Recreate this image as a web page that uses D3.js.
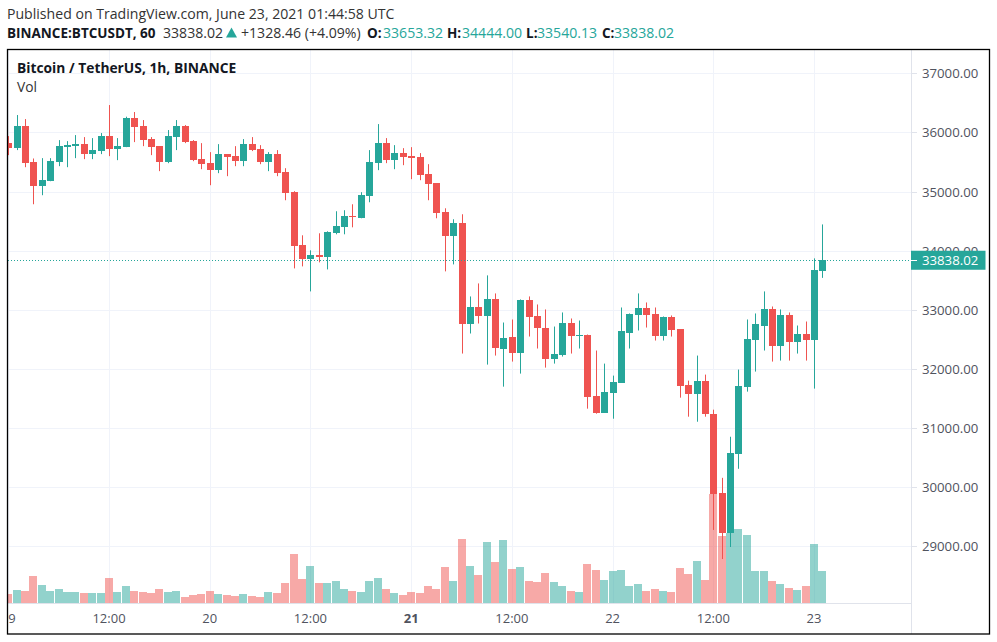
<!DOCTYPE html>
<html>
<head>
<meta charset="utf-8">
<script src="https://cdn.jsdelivr.net/npm/d3@7"></script>
<style>
html, body { margin: 0; padding: 0; background: #fff; }
svg { display: block; }
text { font-family: "Open Sans", sans-serif; fill: #131722; }
</style>
</head>
<body>
<div id="chart"></div>
<script>
// hourly candles, oldest first
var opens = [35814,35734,36107,35497,35090,35175,35497,35751,35768,35802,35633,35684,35938,35717,35751,36243,36107,35887,35768,35497,35921,36107,35853,35548,35480,35362,35633,35599,35514,35802,35717,35497,35633,
	35328,34989,34090,33853,33921,33887,34294,34395,34582,34548,34921,35480,35819,35531,35650,35599,35582,35294,35141,34650,34243,34463,32768,33039,32887,33175,32345,32548,32277,33158,32887,32700,32175,32243,32785,32565,32582,31548,31260,31599,31768,32616,32904,33023,32921,32565,32870,
	32667,31734,31582,31802,31243,29904,29226,30565,31700,32497,32734,33006,32395,32904,32463,32599,32497,33653.32];
var highs = [35938,36294,36226,35559,35565,35565,35870,35853,35955,35921,35904,35989,36463,35904,36266,36345,36209,35921,35768,36040,36209,36124,35870,35819,35667,35802,35633,35768,35887,35921,35785,35667,35701,
	35395,35006,34260,34006,34294,34328,34667,34684,34785,34989,35701,36141,35904,35785,35734,35751,35650,35463,35141,34717,34531,34616,33226,33446,33582,33277,32785,32836,33175,33226,33090,33006,32717,32955,32853,32819,32582,32311,32090,31887,33039,32938,33277,33124,33039,32887,32904,
	32667,31802,32226,31904,31311,30158,30853,31989,32836,32938,33311,33056,33006,32955,32734,32802,33870,34444];
var lows = [35616,35701,35412,34785,34938,35175,35429,35412,35565,35548,35548,35633,35599,35531,35751,35836,35768,35616,35345,35480,35701,35819,35514,35378,35107,35311,35260,35429,35429,35684,35463,35345,35260,
	34853,33700,33734,33311,33802,33683,34277,34277,34395,34548,34819,35362,35480,35378,35446,35209,35192,34853,34548,33650,33768,32260,32599,32768,32073,32226,31700,32124,31921,32548,32345,32022,32090,32209,32260,32345,31328,31243,31260,31158,31768,32345,32650,32700,32480,32480,32548,
	31514,31192,31107,31192,29277,28785,28988,30311,31616,31955,32311,32124,32141,32141,32260,32141,31667,33540.13];
var closes = [35734,36107,35480,35090,35192,35514,35768,35785,35802,35633,35701,35938,35717,35768,36243,36090,35870,35751,35497,35938,36107,35836,35531,35463,35362,35633,35582,35514,35802,35701,35497,35633,35311,
	34972,34073,33853,33921,33887,34311,34412,34582,34565,34938,35497,35819,35531,35650,35582,35565,35277,35124,34633,34243,34463,32768,33039,32887,33175,32361,32531,32277,33158,32870,32684,32175,32260,32785,32565,32582,31531,31260,31616,31785,32633,32921,33023,32904,32565,32870,32650,
	31717,31582,31802,31243,29887,29226,30582,31717,32514,32768,33006,32395,32904,32463,32599,32497,33667,33838.02];
// volume, in arbitrary units as the pane has no scale
var volumes = [27,39,36,81,54,36,42,33,33,30,30,30,75,33,51,36,33,30,42,33,36,18,24,27,36,27,24,21,27,21,18,33,30,60,147,72,111,60,60,66,42,36,33,66,75,42,30,24,33,30,
	51,42,108,66,192,111,84,183,123,189,102,108,66,63,90,63,51,36,33,117,99,69,96,99,51,57,36,42,36,33,105,87,126,69,327,201,210,222,204,96,96,66,57,45,39,51,177,96];
// every 12 bars from the left edge
var timeLabels = ["19","12:00","20","12:00","21","12:00","22","12:00","23"];
var priceTicks = [29000,30000,31000,32000,33000,34000,35000,36000,37000];

var UP = "#26a69a", DOWN = "#ef5350", GRID = "#f0f3fa", AXIS_LINE = "#e0e3eb";
var WIDTH = 997, HEIGHT = 642;
var PANE_LEFT = 8, PANE_RIGHT = 911, PANE_TOP = 50, PANE_BOTTOM = 603;
var lastPrice = closes[closes.length - 1];

var x = d3.scaleLinear().domain([0, 97]).range([8.3, 822.4]);
var y = d3.scaleLinear().domain([29000, 37000]).range([546.3, 73.3]);
var yVol = d3.scaleLinear().domain([0, 300]).range([PANE_BOTTOM, PANE_BOTTOM - 100]);

var svg = d3.select("#chart").append("svg").attr("width", WIDTH).attr("height", HEIGHT);

svg.append("clipPath").attr("id", "pane").append("rect")
	.attr("x", PANE_LEFT).attr("y", PANE_TOP)
	.attr("width", PANE_RIGHT - PANE_LEFT).attr("height", PANE_BOTTOM - PANE_TOP);
svg.append("clipPath").attr("id", "time_axis").append("rect")
	.attr("x", PANE_LEFT).attr("y", PANE_BOTTOM)
	.attr("width", PANE_RIGHT - PANE_LEFT).attr("height", 30);

// Grid
var grid = svg.append("g").attr("clip-path", "url(#pane)");
grid.selectAll("line.h").data(priceTicks).enter().append("line")
	.attr("x1", PANE_LEFT).attr("x2", PANE_RIGHT)
	.attr("y1", function(d) { return Math.round(y(d)) + 0.5; })
	.attr("y2", function(d) { return Math.round(y(d)) + 0.5; })
	.attr("stroke", GRID);
grid.selectAll("line.v").data(timeLabels).enter().append("line")
	.attr("x1", function(d, i) { return Math.round(x(i * 12)) + 0.5; })
	.attr("x2", function(d, i) { return Math.round(x(i * 12)) + 0.5; })
	.attr("y1", PANE_TOP).attr("y2", PANE_BOTTOM)
	.attr("stroke", GRID);

// Volume under the candles
var pane = svg.append("g").attr("clip-path", "url(#pane)");
pane.selectAll("rect.vol").data(volumes).enter().append("rect")
	.attr("x", function(d, i) { return Math.round(x(i)) - 4; })
	.attr("width", 8)
	.attr("y", function(d) { return yVol(d); })
	.attr("height", function(d) { return PANE_BOTTOM - yVol(d); })
	.attr("fill", function(d, i) { return closes[i] >= opens[i] ? UP : DOWN; })
	.attr("opacity", 0.5);

// Last price line
svg.append("line")
	.attr("x1", PANE_LEFT).attr("x2", PANE_RIGHT)
	.attr("y1", Math.round(y(lastPrice)) + 0.5).attr("y2", Math.round(y(lastPrice)) + 0.5)
	.attr("stroke", UP).attr("stroke-dasharray", "1 2");

// Candles
pane.selectAll("line.wick").data(opens).enter().append("line")
	.attr("x1", function(d, i) { return Math.round(x(i)) + 0.5; })
	.attr("x2", function(d, i) { return Math.round(x(i)) + 0.5; })
	.attr("y1", function(d, i) { return y(highs[i]); })
	.attr("y2", function(d, i) { return y(lows[i]); })
	.attr("stroke", function(d, i) { return closes[i] >= d ? UP : DOWN; });
pane.selectAll("rect.body").data(opens).enter().append("rect")
	.attr("x", function(d, i) { return Math.round(x(i)) - 3; })
	.attr("width", 7)
	.attr("y", function(d, i) { return Math.round(y(Math.max(d, closes[i]))); })
	.attr("height", function(d, i) { return Math.max(1, Math.round(y(Math.min(d, closes[i]))) - Math.round(y(Math.max(d, closes[i])))); })
	.attr("fill", function(d, i) { return closes[i] >= d ? UP : DOWN; });

// Axis lines
svg.append("line").attr("x1", PANE_RIGHT + 0.5).attr("x2", PANE_RIGHT + 0.5)
	.attr("y1", PANE_TOP).attr("y2", 634).attr("stroke", AXIS_LINE);
svg.append("line").attr("x1", PANE_LEFT).attr("x2", PANE_RIGHT)
	.attr("y1", PANE_BOTTOM + 0.5).attr("y2", PANE_BOTTOM + 0.5).attr("stroke", AXIS_LINE);

// Price axis
var priceAxis = svg.append("g");
priceAxis.selectAll("line").data(priceTicks).enter().append("line")
	.attr("x1", PANE_RIGHT).attr("x2", PANE_RIGHT + 6)
	.attr("y1", function(d) { return Math.round(y(d)) + 0.5; })
	.attr("y2", function(d) { return Math.round(y(d)) + 0.5; })
	.attr("stroke", AXIS_LINE);
priceAxis.selectAll("text").data(priceTicks).enter().append("text")
	.attr("x", 922)
	.attr("y", function(d) { return y(d) + 5; })
	.attr("font-size", 13.2)
	.style("fill", "#50535e")
	.text(function(d) { return d3.format(".2f")(d); });

// Last price tag covers the 34000 label
svg.append("rect")
	.attr("x", PANE_RIGHT).attr("y", y(lastPrice) - 9.5)
	.attr("width", 74.5).attr("height", 19)
	.attr("fill", UP);
svg.append("line")
	.attr("x1", PANE_RIGHT).attr("x2", PANE_RIGHT + 6)
	.attr("y1", Math.round(y(lastPrice)) + 0.5).attr("y2", Math.round(y(lastPrice)) + 0.5)
	.attr("stroke", "#fff");
svg.append("text")
	.attr("x", 922).attr("y", y(lastPrice) + 5)
	.attr("font-size", 13.2)
	.style("fill", "#fff")
	.text(d3.format(".2f")(lastPrice));

// Time axis
var timeAxis = svg.append("g").attr("clip-path", "url(#time_axis)");
timeAxis.selectAll("text").data(timeLabels).enter().append("text")
	.attr("x", function(d, i) { return x(i * 12); })
	.attr("y", 623)
	.attr("text-anchor", "middle")
	.attr("font-size", 13)
	.attr("font-weight", function(d) { return d == "21" ? "bold" : "normal"; })
	.style("fill", "#50535e")
	.text(function(d) { return d; });

// Frame
svg.append("rect")
	.attr("x", 7.5).attr("y", 49.5)
	.attr("width", 982).attr("height", 584.5)
	.attr("fill", "none").attr("stroke", "#000").attr("stroke-width", 1.3);

// Titles
var label = function(text, left, top, size, bold, color) {
	return svg.append("text")
		.attr("x", left).attr("y", top)
		.attr("font-size", size)
		.attr("font-weight", bold ? "bold" : "normal")
		.style("fill", color || "#131722")
		.text(text);
};
label("Published on TradingView.com, June 23, 2021 01:44:58 UTC", 7, 19, 14.1, false, "#333");
label("BINANCE:BTCUSDT, 60", 7, 38, 13.5, true);
label("33838.02", 163, 38, 14.1, false, "#333");
svg.append("path").attr("d", "M226 37.5L231.5 27.5L237 37.5Z").attr("fill", UP);
label("+1328.46 (+4.09%)", 241, 38, 14.1, false, "#333");
label("O:", 367, 38, 13.5, true);
label("33653.32", 383, 38, 14.1, false, UP);
label("H:", 447, 38, 13.5, true);
label("34444.00", 462, 38, 14.1, false, UP);
label("L:", 526, 38, 13.5, true);
label("33540.13", 537, 38, 14.1, false, UP);
label("C:", 602, 38, 13.5, true);
label("33838.02", 614, 38, 14.1, false, UP);
label("Bitcoin / TetherUS, 1h, BINANCE", 17, 73, 13.8, true);
label("Vol", 17, 92, 13.8, false, "#333");
</script>
</body>
</html>
